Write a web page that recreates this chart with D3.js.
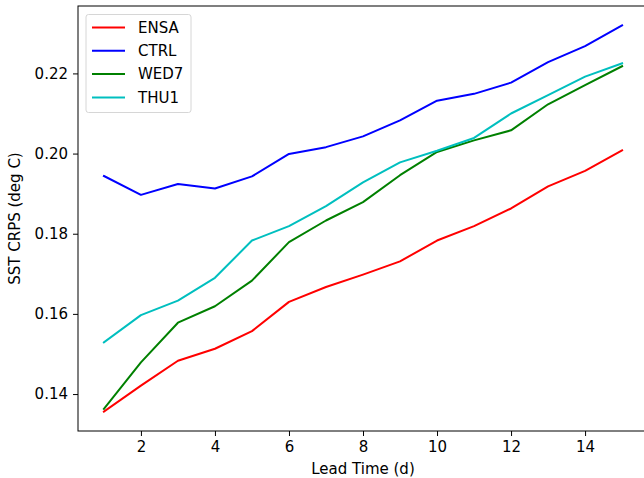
<!DOCTYPE html>
<html>
<head>
<meta charset="utf-8">
<script src="https://cdn.jsdelivr.net/npm/d3@7"></script>
<style>
  body { margin: 0; background: #fff; }
  svg { display: block; font-family: "DejaVu Sans", sans-serif; }
</style>
</head>
<body>
<svg id="chart" width="644" height="478"></svg>
<script>
// lead time in days
const leadDays = [1, 2, 3, 4, 5, 6, 7, 8, 9, 10, 11, 12, 13, 14, 15];

const ensa = [0.1356, 0.1421, 0.1483, 0.1513, 0.1557, 0.1630, 0.1667, 0.1698, 0.1731, 0.1783, 0.1819, 0.1863, 0.1918, 0.1957, 0.2008];
const ctrl = [0.1944, 0.1897, 0.1924, 0.1913, 0.1943, 0.1999, 0.2016, 0.2043, 0.2083, 0.2132, 0.2149, 0.2177, 0.2228, 0.2268, 0.2320];
const wed7 = [0.1363, 0.1479, 0.1578, 0.1619, 0.1683, 0.1779, 0.1833, 0.1879, 0.1946, 0.2004, 0.2033, 0.2058, 0.2123, 0.2171, 0.2218];
const thu1 = [0.1529, 0.1597, 0.1633, 0.1690, 0.1783, 0.1819, 0.1869, 0.1928, 0.1978, 0.2007, 0.2039, 0.2100, 0.2146, 0.2192, 0.2225];

const seriesNames = ["ENSA", "CTRL", "WED7", "THU1"];
const seriesColors = ["#ff0000", "#0000ff", "#008000", "#00bfbf"];
const xTicks = [2, 4, 6, 8, 10, 12, 14];
const yTicks = [0.14, 0.16, 0.18, 0.20, 0.22];

const allSeries = [ensa, ctrl, wed7, thu1];
const fontSize = "15px";

const svg = d3.select("#chart");
const margin = { left: 78, top: 6 };
const plotW = 570, plotH = 425;

// matplotlib style 5% padding on both axes
const xMin = d3.min(leadDays), xMax = d3.max(leadDays);
const xPad = (xMax - xMin) * 0.05;
const x = d3.scaleLinear().domain([xMin - xPad, xMax + xPad]).range([0, plotW]);

const yMin = d3.min(allSeries, s => d3.min(s)), yMax = d3.max(allSeries, s => d3.max(s));
const yPad = (yMax - yMin) * 0.05;
const y = d3.scaleLinear().domain([yMin - yPad, yMax + yPad]).range([plotH, 0]);

const g = svg.append("g").attr("transform", `translate(${margin.left},${margin.top})`);

const line = d3.line().x((d, i) => x(leadDays[i])).y(d => y(d));

allSeries.forEach((s, k) => {
  g.append("path")
    .datum(s)
    .attr("fill", "none")
    .attr("stroke", seriesColors[k])
    .attr("stroke-width", 2)
    .attr("stroke-linejoin", "round")
    .attr("stroke-linecap", "square")
    .attr("d", line);
});

// axes
const xAxis = g.append("g")
  .attr("transform", `translate(0,${plotH})`)
  .call(d3.axisBottom(x).tickValues(xTicks).tickSize(5).tickPadding(5).tickFormat(d3.format("d")));

const yAxis = g.append("g")
  .call(d3.axisLeft(y).tickValues(yTicks).tickSize(5).tickPadding(5).tickFormat(d3.format(".2f")));

[xAxis, yAxis].forEach(a => {
  a.select(".domain").remove();
  a.selectAll("line").attr("stroke", "#000").attr("stroke-width", 1);
  a.selectAll("text").attr("fill", "#000").style("font-size", fontSize).style("font-family", "DejaVu Sans");
});

// spines
g.append("rect")
  .attr("x", 0).attr("y", 0)
  .attr("width", plotW).attr("height", plotH)
  .attr("fill", "none")
  .attr("stroke", "#000")
  .attr("stroke-width", 1);

// axis labels
svg.append("text")
  .attr("x", margin.left + plotW / 2)
  .attr("y", 474)
  .attr("text-anchor", "middle")
  .style("font-size", fontSize)
  .text("Lead Time (d)");

svg.append("text")
  .attr("transform", `translate(20,${margin.top + plotH / 2}) rotate(-90)`)
  .attr("text-anchor", "middle")
  .style("font-size", fontSize)
  .text("SST CRPS (deg C)");

// legend
const lg = svg.append("g").attr("transform", "translate(86,14.5)");
lg.append("rect")
  .attr("width", 105).attr("height", 98)
  .attr("rx", 2.5)
  .attr("fill", "#fff").attr("fill-opacity", 0.8)
  .attr("stroke", "#d6d6d6").attr("stroke-width", 1);

seriesNames.forEach((name, i) => {
  const yy = 13 + i * 23.3;
  lg.append("line")
    .attr("x1", 6).attr("x2", 39)
    .attr("y1", yy).attr("y2", yy)
    .attr("stroke", seriesColors[i]).attr("stroke-width", 2);
  lg.append("text")
    .attr("x", 52).attr("y", yy)
    .attr("dy", "0.35em")
    .style("font-size", fontSize)
    .text(name);
});
</script>
</body>
</html>
